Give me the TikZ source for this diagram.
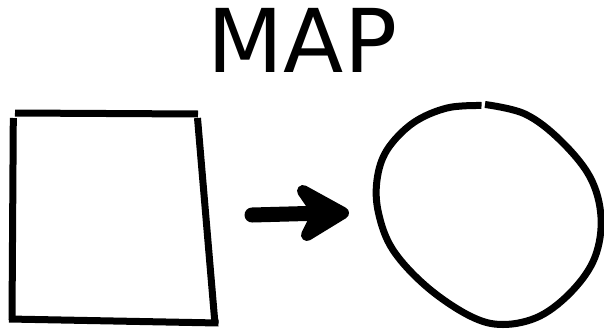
\documentclass[tikz,border=0pt]{standalone}
\usepackage{fontspec}
\setmainfont{DejaVu Sans}
\begin{document}
\begin{tikzpicture}[x=1pt,y=-1pt,
  ink/.style={line width=7pt,black},
  title/.style={font=\fontsize{88}{88}\selectfont, inner sep=0pt, anchor=base}]
\useasboundingbox (0,0) rectangle (604,332);
\fill[white] (0,0) rectangle (604,332);
\node[title] (t) at (302.5,72) {MAP};
% quadrilateral
\draw[ink] (15,113) -- (198,114);
\draw[ink] (13.3,118) -- (12,320);
\draw[ink] (197.5,118) -- (215,324);
\draw[ink] (9,319) -- (218.5,323);
% arrow
\coordinate (a1) at (252,215);
\coordinate (a2) at (325,213);
\draw[line width=15pt, line cap=round] (a1) -- (a2);
\filldraw[line width=12pt, line join=round] (303,191) -- (343,213) -- (307,235) -- (318,213) -- cycle;
% circle
\draw[ink, line cap=butt] plot[smooth, tension=0.6] coordinates {
(485,104.5) (525,114) (560,140) (590,177) (601,217) (595,257) (573,290) (540,316)
(503,324.5) (470,316) (427,287) (393,250) (378.5,213) (377,180) (387,150)
(413,123) (447,108) (481.5,105.5)};
\end{tikzpicture}
\end{document}
